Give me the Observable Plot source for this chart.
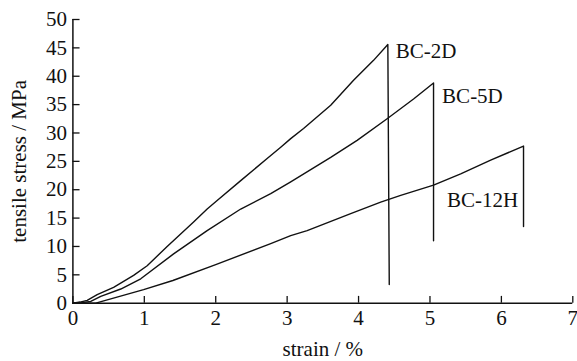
<!DOCTYPE html>
<html>
<head>
<meta charset="utf-8">
<script src="https://cdn.jsdelivr.net/npm/d3@7"></script>
<script src="https://cdn.jsdelivr.net/npm/@observablehq/plot@0.6"></script>
<style>
  html, body { margin: 0; padding: 0; background: #fff; }
</style>
</head>
<body>
<div id="chart"></div>
<script>
// ---- data ----
const strain2D = [0, 0.1, 0.2, 0.34, 0.57, 0.85, 1.04, 1.32, 1.69, 1.88, 2.02, 2.35, 2.72, 2.91, 3.05, 3.23, 3.61, 3.93, 4.21, 4.41, 4.43];
const stress2D = [0, 0.2, 0.5, 1.5, 2.8, 4.9, 6.6, 10.0, 14.3, 16.6, 18.1, 21.6, 25.5, 27.5, 29.0, 30.8, 34.9, 39.3, 42.8, 45.6, 3.3];

const strain5D = [0, 0.12, 0.25, 0.39, 0.67, 0.95, 1.41, 1.88, 2.35, 2.77, 3.05, 3.61, 3.98, 4.40, 4.77, 5.05, 5.05];
const stress5D = [0, 0.1, 0.3, 1.2, 2.5, 4.3, 8.7, 12.8, 16.6, 19.3, 21.4, 25.7, 28.7, 32.5, 36.0, 38.8, 11.0];

const strain12H = [0, 0.32, 0.99, 1.4, 2.0, 2.77, 3.05, 3.28, 3.89, 4.31, 4.59, 5.05, 5.43, 5.85, 6.31, 6.31];
const stress12H = [0, 0.0, 2.4, 4.0, 6.8, 10.5, 11.9, 12.8, 15.8, 17.8, 19.0, 20.8, 22.8, 25.2, 27.7, 13.5];

const seriesNames = ["BC-2D", "BC-5D", "BC-12H"];
const labelX = [4.52, 5.17, 5.24];
const labelY = [44.4, 36.4, 18.1];

const xTicks = [0, 1, 2, 3, 4, 5, 6, 7];
const yTicks = [0, 5, 10, 15, 20, 25, 30, 35, 40, 45, 50];

const xLabel = "strain / %";
const yLabel = "tensile stress / MPa";

// ---- build tables ----
const rows = [];
[[strain2D, stress2D], [strain5D, stress5D], [strain12H, stress12H]].forEach(([xs, ys], i) => {
  xs.forEach((x, j) => rows.push({series: seriesNames[i], strain: x, stress: ys[j]}));
});
const labels = seriesNames.map((name, i) => ({name, x: labelX[i], y: labelY[i]}));

const FONT = "Liberation Serif, Times New Roman, serif";
const FS = 21;
const INK = "#111";

const chart = Plot.plot({
  width: 577,
  height: 361,
  marginLeft: 72.4,
  marginRight: 4.7,
  marginTop: 19,
  marginBottom: 58.3,
  style: {fontFamily: FONT, fontSize: FS + "px", background: "#fff", color: INK},
  x: {domain: [0, 7]},
  y: {domain: [0, 50]},
  marks: [
    Plot.axisX({ticks: xTicks, tickSize: 0, tickPadding: 7, label: null, fontSize: FS, tickFormat: d => String(d)}),
    Plot.axisY({ticks: yTicks, tickSize: 0, tickPadding: 6, label: null, fontSize: FS, tickFormat: d => String(d)}),
    // inward tick marks
    Plot.ruleX(xTicks, {x: d => d, y1: 0, y2: 1.2, stroke: INK, strokeWidth: 1.3}),
    Plot.ruleY(yTicks, {y: d => d, x1: 0, x2: 0.1, stroke: INK, strokeWidth: 1.3}),
    // axis lines
    Plot.ruleX([0], {stroke: INK, strokeWidth: 1.5}),
    Plot.ruleY([0], {stroke: INK, strokeWidth: 1.5}),
    // curves
    Plot.line(rows, {x: "strain", y: "stress", z: "series", stroke: INK, strokeWidth: 1.4, curve: "linear"}),
    // series labels
    Plot.text(labels, {x: "x", y: "y", text: "name", textAnchor: "start", lineAnchor: "middle", fontSize: FS, fill: INK}),
    // axis titles
    Plot.text([xLabel], {text: d => d, frameAnchor: "bottom", dy: 46, textAnchor: "middle", lineAnchor: "middle", fontSize: FS, fill: INK}),
    Plot.text([yLabel], {text: d => d, frameAnchor: "left", dx: -53.8, rotate: -90, textAnchor: "middle", lineAnchor: "middle", fontSize: FS, fill: INK})
  ]
});
document.getElementById("chart").appendChild(chart);
</script>
</body>
</html>
